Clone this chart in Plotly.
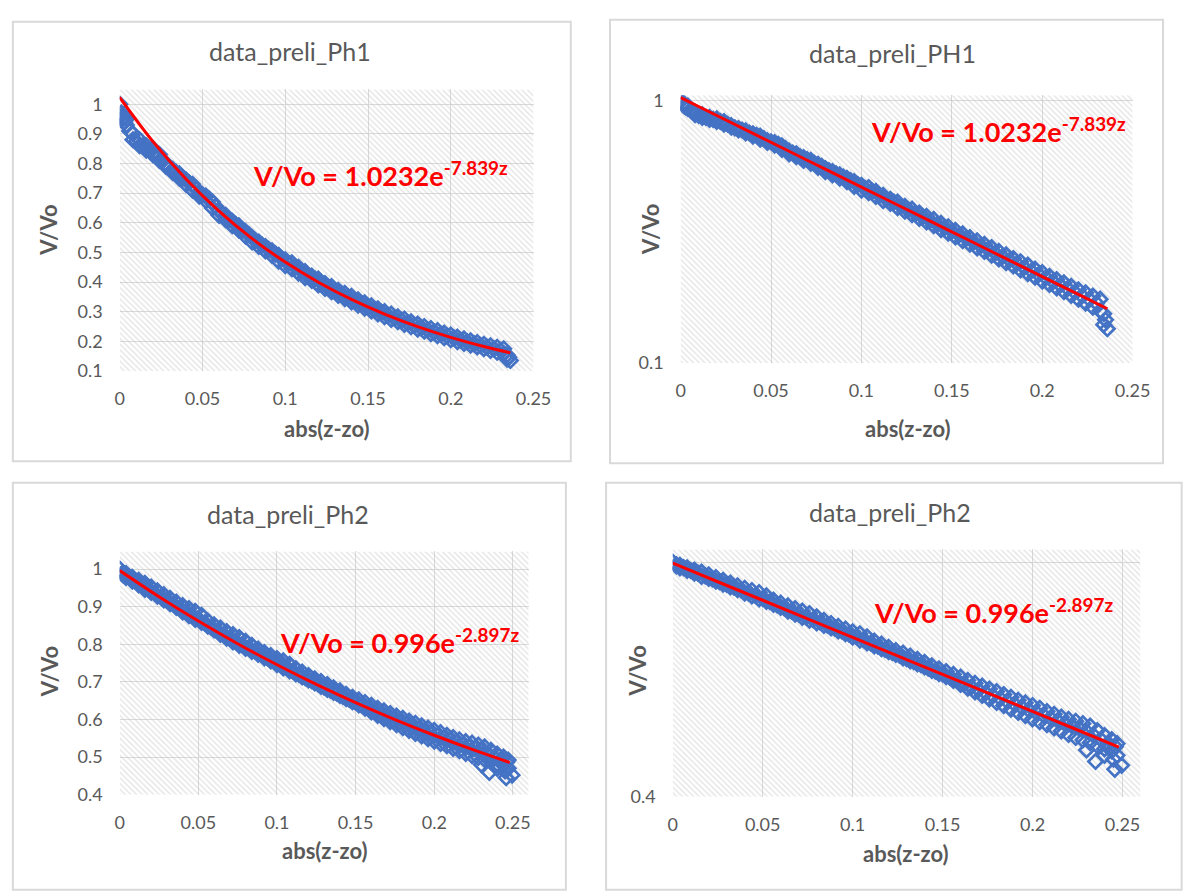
import plotly.graph_objects as go

# ---------------- data ----------------
# Ph1 measurements: abs(z-zo) grid with upper / lower edge of the point band
ph1_z = [0.004, 0.008, 0.012, 0.016, 0.020, 0.024, 0.028, 0.032, 0.036, 0.040,
         0.044, 0.048, 0.052, 0.056, 0.060, 0.064, 0.068, 0.072, 0.076, 0.080,
         0.084, 0.088, 0.092, 0.096, 0.100, 0.104, 0.108, 0.112, 0.116, 0.120,
         0.124, 0.128, 0.132, 0.136, 0.140, 0.144, 0.148, 0.152, 0.156, 0.160,
         0.164, 0.168, 0.172, 0.176, 0.180, 0.184, 0.188, 0.192, 0.196, 0.200,
         0.204, 0.208, 0.212, 0.216, 0.220, 0.224, 0.228, 0.232]
ph1_v_hi = [0.95, 0.90, 0.88, 0.86, 0.85, 0.83, 0.80, 0.78, 0.765, 0.745,
            0.73, 0.70, 0.69, 0.67, 0.64, 0.625, 0.605, 0.59, 0.57, 0.55,
            0.535, 0.52, 0.505, 0.49, 0.475, 0.465, 0.45, 0.435, 0.42, 0.41,
            0.395, 0.385, 0.372, 0.362, 0.352, 0.34, 0.33, 0.32, 0.31, 0.30,
            0.292, 0.283, 0.275, 0.266, 0.258, 0.25, 0.243, 0.236, 0.228, 0.221,
            0.214, 0.208, 0.202, 0.196, 0.19, 0.185, 0.18, 0.175]
ph1_v_lo = [0.93, 0.88, 0.86, 0.845, 0.83, 0.81, 0.79, 0.77, 0.75, 0.73,
            0.71, 0.69, 0.675, 0.65, 0.625, 0.61, 0.59, 0.575, 0.555, 0.535,
            0.52, 0.505, 0.49, 0.47, 0.455, 0.445, 0.43, 0.415, 0.405, 0.39,
            0.378, 0.367, 0.355, 0.344, 0.333, 0.322, 0.312, 0.302, 0.292, 0.283,
            0.274, 0.266, 0.257, 0.249, 0.241, 0.234, 0.226, 0.219, 0.212, 0.205,
            0.199, 0.193, 0.187, 0.181, 0.175, 0.169, 0.163, 0.158]
ph1_z_mid = [0.002, 0.006, 0.010, 0.014, 0.018, 0.022, 0.026, 0.030, 0.034, 0.038,
             0.042, 0.046, 0.050, 0.054, 0.058, 0.062, 0.066, 0.070, 0.074, 0.078,
             0.082, 0.086, 0.090, 0.094, 0.098, 0.102, 0.106, 0.110, 0.114, 0.118,
             0.122, 0.126, 0.130, 0.134, 0.138, 0.142, 0.146, 0.150, 0.154, 0.158,
             0.162, 0.166, 0.170, 0.174, 0.178, 0.182, 0.186, 0.190, 0.194, 0.198,
             0.202, 0.206, 0.210, 0.214, 0.218, 0.222, 0.226, 0.230]
ph1_v_mid = [0.955, 0.91, 0.875, 0.86, 0.845, 0.83, 0.81, 0.785, 0.77, 0.75,
             0.735, 0.715, 0.695, 0.68, 0.655, 0.63, 0.61, 0.595, 0.575, 0.56,
             0.54, 0.525, 0.51, 0.495, 0.478, 0.462, 0.45, 0.435, 0.42, 0.41,
             0.395, 0.383, 0.37, 0.36, 0.348, 0.337, 0.327, 0.317, 0.307, 0.298,
             0.288, 0.279, 0.271, 0.262, 0.254, 0.246, 0.239, 0.231, 0.224, 0.217,
             0.211, 0.204, 0.198, 0.192, 0.186, 0.18, 0.175, 0.169]
ph1_extra_z = [0.0, 0.001, 0.002, 0.003, 0.234, 0.235, 0.236, 0.234]
ph1_extra_v = [1.0, 0.97, 0.95, 0.94, 0.154, 0.146, 0.135, 0.140]

# Ph1 exponential trendline V/Vo = 1.0232 e^(-7.839 z)
ph1_fit_z = [0.0, 0.02, 0.04, 0.06, 0.08, 0.10, 0.12, 0.14, 0.16, 0.18, 0.20, 0.22, 0.236]
ph1_fit_v = [1.0232, 0.8747, 0.7479, 0.6393, 0.5465, 0.4672, 0.3994, 0.3415, 0.2919,
             0.2495, 0.2133, 0.1824, 0.1609]

# Ph2 measurements
ph2_z = [0.004, 0.008, 0.012, 0.016, 0.020, 0.024, 0.028, 0.032, 0.036, 0.040,
         0.044, 0.048, 0.052, 0.056, 0.060, 0.064, 0.068, 0.072, 0.076, 0.080,
         0.084, 0.088, 0.092, 0.096, 0.100, 0.104, 0.108, 0.112, 0.116, 0.120,
         0.124, 0.128, 0.132, 0.136, 0.140, 0.144, 0.148, 0.152, 0.156, 0.160,
         0.164, 0.168, 0.172, 0.176, 0.180, 0.184, 0.188, 0.192, 0.196, 0.200,
         0.204, 0.208, 0.212, 0.216, 0.220, 0.224, 0.228, 0.232, 0.236, 0.240,
         0.244]
ph2_v_hi = [0.988, 0.978, 0.970, 0.962, 0.952, 0.942, 0.932, 0.922, 0.912, 0.903,
            0.895, 0.888, 0.877, 0.862, 0.852, 0.843, 0.834, 0.826, 0.818, 0.808,
            0.797, 0.787, 0.778, 0.770, 0.762, 0.756, 0.747, 0.735, 0.726, 0.717,
            0.708, 0.701, 0.693, 0.684, 0.676, 0.667, 0.659, 0.652, 0.645, 0.638,
            0.630, 0.623, 0.616, 0.609, 0.603, 0.596, 0.590, 0.583, 0.577, 0.571,
            0.565, 0.558, 0.552, 0.546, 0.541, 0.537, 0.532, 0.527, 0.518, 0.508,
            0.500]
ph2_v_lo = [0.978, 0.968, 0.958, 0.946, 0.938, 0.928, 0.918, 0.908, 0.898, 0.886,
            0.876, 0.866, 0.858, 0.848, 0.838, 0.826, 0.816, 0.806, 0.797, 0.789,
            0.781, 0.773, 0.764, 0.756, 0.746, 0.737, 0.729, 0.721, 0.713, 0.705,
            0.697, 0.688, 0.680, 0.672, 0.664, 0.655, 0.647, 0.639, 0.630, 0.620,
            0.611, 0.602, 0.594, 0.586, 0.578, 0.571, 0.563, 0.556, 0.549, 0.542,
            0.536, 0.530, 0.523, 0.517, 0.510, 0.504, 0.499, 0.494, 0.488, 0.482,
            0.478]
ph2_z_mid = [0.002, 0.006, 0.010, 0.014, 0.018, 0.022, 0.026, 0.030, 0.034, 0.038,
             0.042, 0.046, 0.050, 0.054, 0.058, 0.062, 0.066, 0.070, 0.074, 0.078,
             0.082, 0.086, 0.090, 0.094, 0.098, 0.102, 0.106, 0.110, 0.114, 0.118,
             0.122, 0.126, 0.130, 0.134, 0.138, 0.142, 0.146, 0.150, 0.154, 0.158,
             0.162, 0.166, 0.170, 0.174, 0.178, 0.182, 0.186, 0.190, 0.194, 0.198,
             0.202, 0.206, 0.210, 0.214, 0.218, 0.222, 0.226, 0.230, 0.234, 0.238,
             0.242, 0.246]
ph2_v_mid = [0.990, 0.979, 0.968, 0.958, 0.948, 0.937, 0.927, 0.917, 0.907, 0.897,
             0.887, 0.878, 0.868, 0.857, 0.846, 0.836, 0.826, 0.817, 0.808, 0.799,
             0.791, 0.782, 0.773, 0.764, 0.755, 0.748, 0.739, 0.729, 0.720, 0.711,
             0.703, 0.695, 0.686, 0.678, 0.670, 0.661, 0.653, 0.646, 0.638, 0.630,
             0.622, 0.614, 0.607, 0.600, 0.593, 0.587, 0.580, 0.574, 0.567, 0.561,
             0.556, 0.550, 0.544, 0.538, 0.532, 0.527, 0.522, 0.516, 0.508, 0.500,
             0.493, 0.486]
ph2_extra_z = [0.0, 0.002, 0.002, 0.247, 0.247, 0.230, 0.235, 0.240, 0.2457, 0.2495, 0.245, 0.243]
ph2_extra_v = [1.0, 0.99, 0.985, 0.492, 0.470, 0.480, 0.459, 0.470, 0.445, 0.452, 0.463, 0.485]

# Ph2 exponential trendline V/Vo = 0.996 e^(-2.897 z)
ph2_fit_z = [0.0, 0.025, 0.05, 0.075, 0.10, 0.125, 0.15, 0.175, 0.20, 0.225, 0.248]
ph2_fit_v = [0.996, 0.9264, 0.8617, 0.8015, 0.7455, 0.6934, 0.6450, 0.5999, 0.5580,
             0.5190, 0.4856]

titles = ["data_preli_Ph1", "data_preli_PH1", "data_preli_Ph2", "data_preli_Ph2"]
equations = ["V/Vo = 1.0232e<sup>-7.839z</sup>", "V/Vo = 1.0232e<sup>-7.839z</sup>",
             "V/Vo = 0.996e<sup>-2.897z</sup>", "V/Vo = 0.996e<sup>-2.897z</sup>"]
x_tickvals = [0, 0.05, 0.1, 0.15, 0.2, 0.25]
x_ticktext = ["0", "0.05", "0.1", "0.15", "0.2", "0.25"]
lin1_tickvals = [0.1, 0.2, 0.3, 0.4, 0.5, 0.6, 0.7, 0.8, 0.9, 1.0]
lin1_ticktext = ["0.1", "0.2", "0.3", "0.4", "0.5", "0.6", "0.7", "0.8", "0.9", "1"]
lin2_tickvals = [0.4, 0.5, 0.6, 0.7, 0.8, 0.9, 1.0]
lin2_ticktext = ["0.4", "0.5", "0.6", "0.7", "0.8", "0.9", "1"]

# ---------------- styling ----------------
W, H = 1183, 891
BLUE = "#4472C4"
GRID = "#D9D9D9"
TXT = "#595959"
FONT = "Lato, 'Open Sans', sans-serif"


def px(x):
    return x / W


def py(y):
    return 1 - y / H


ph1_all_z = ph1_z + ph1_z + ph1_z_mid + ph1_extra_z
ph1_all_v = ph1_v_hi + ph1_v_lo + ph1_v_mid + ph1_extra_v
ph2_all_z = ph2_z + ph2_z + ph2_z_mid + ph2_extra_z
ph2_all_v = ph2_v_hi + ph2_v_lo + ph2_v_mid + ph2_extra_v

panels = [
    dict(z=ph1_all_z, v=ph1_all_v, fz=ph1_fit_z, fv=ph1_fit_v,
         xdom=(117, 539), ydom=(84, 371),
         xr=[0, 0.25], ytype="linear", yr=[0.1, 1.05],
         ytv=lin1_tickvals, ytt=lin1_ticktext,
         box=(8, 15, 577, 463), title=(291, 45), ytitle=(45, 228), xtitle=(328, 430),
         eq=(251, 170)),
    dict(z=ph1_all_z, v=ph1_all_v, fz=ph1_fit_z, fv=ph1_fit_v,
         xdom=(689, 1150), ydom=(90, 363),
         xr=[0, 0.25], ytype="log", yr=[-1, 0.0187],
         ytv=[0.1, 1], ytt=["0.1", "1"],
         box=(617, 13, 1181, 465), title=(905, 47), ytitle=(658, 227), xtitle=(920, 430),
         eq=(881, 125)),
    dict(z=ph2_all_z, v=ph2_all_v, fz=ph2_fit_z, fv=ph2_fit_v,
         xdom=(117, 534), ydom=(555, 803),
         xr=[0, 0.26], ytype="linear", yr=[0.4, 1.047],
         ytv=lin2_tickvals, ytt=lin2_ticktext,
         box=(8, 485, 572, 900), title=(289, 517), ytitle=(45, 678), xtitle=(326, 860),
         eq=(278, 646)),
    dict(z=ph2_all_z, v=ph2_all_v, fz=ph2_fit_z, fv=ph2_fit_v,
         xdom=(681, 1158), ydom=(553, 805),
         xr=[0, 0.26], ytype="log", yr=[-0.39794, 0.0216],
         ytv=[0.4, 1], ytt=["0.4", ""],
         box=(613, 485, 1200, 900), title=(903, 515), ytitle=(645, 677), xtitle=(918, 863),
         eq=(884, 616)),
]

fig = go.Figure()
layout = dict(width=W, height=H, margin=dict(l=0, r=0, t=0, b=0),
              paper_bgcolor="white", plot_bgcolor="white", showlegend=False,
              font=dict(family=FONT, color=TXT))
annotations = []
shapes = []

for i, p in enumerate(panels):
    n = "" if i == 0 else str(i + 1)
    xa, ya = "x" + n, "y" + n
    # hatched plot-area background spanning the axis ranges
    x0, x1 = p["xr"]
    if p["ytype"] == "log":
        y0, y1 = 10 ** p["yr"][0], 10 ** p["yr"][1]
    else:
        y0, y1 = p["yr"]
    fig.add_trace(go.Scatter(x=[x0, x1, x1, x0, x0], y=[y0, y0, y1, y1, y0],
                             xaxis=xa, yaxis=ya, mode="none", fill="toself",
                             fillcolor="rgba(0,0,0,0)",
                             fillpattern=dict(shape="\\", fgcolor="#C4C4C4", size=4,
                                              solidity=0.3),
                             hoverinfo="skip"))
    fig.add_trace(go.Scatter(x=p["z"], y=p["v"], xaxis=xa, yaxis=ya, mode="markers",
                             marker=dict(symbol="diamond-open", size=11, color=BLUE,
                                         line=dict(width=2.7, color=BLUE))))
    fig.add_trace(go.Scatter(x=p["fz"], y=p["fv"], xaxis=xa, yaxis=ya, mode="lines",
                             line=dict(color="#FF0000", width=3, shape="spline"),
                             hoverinfo="skip"))

    layout["xaxis" + n] = dict(domain=[px(p["xdom"][0]), px(p["xdom"][1])], anchor=ya,
                               range=p["xr"], tickvals=x_tickvals, ticktext=x_ticktext,
                               showgrid=True, gridcolor=GRID, gridwidth=1, zeroline=False,
                               showline=False, ticks="", ticklabelstandoff=15,
                               tickfont=dict(size=18, color=TXT, family=FONT))
    layout["yaxis" + n] = dict(domain=[py(p["ydom"][1]), py(p["ydom"][0])], anchor=xa,
                               type=p["ytype"], range=p["yr"], tickvals=p["ytv"],
                               ticktext=p["ytt"], showgrid=True, gridcolor=GRID, gridwidth=1,
                               zeroline=False, showline=False, ticks="",
                               ticklabelstandoff=16,
                               tickfont=dict(size=18, color=TXT, family=FONT))

    bx0, by0, bx1, by1 = p["box"]
    shapes.append(dict(type="rect", xref="paper", yref="paper", x0=px(bx0), x1=px(bx1),
                       y0=py(by1), y1=py(by0), line=dict(color=GRID, width=2),
                       fillcolor="rgba(0,0,0,0)", layer="below"))
    annotations.append(dict(text=titles[i], xref="paper", yref="paper",
                            x=px(p["title"][0]), y=py(p["title"][1]), xanchor="center",
                            yanchor="middle", showarrow=False,
                            font=dict(size=25, color=TXT, family=FONT)))
    annotations.append(dict(text="<b>V/Vo</b>", xref="paper", yref="paper",
                            x=px(p["ytitle"][0]), y=py(p["ytitle"][1]), xanchor="center",
                            yanchor="middle", textangle=-90, showarrow=False,
                            font=dict(size=22, color=TXT, family=FONT)))
    annotations.append(dict(text="<b>abs(z-zo)</b>", xref="paper", yref="paper",
                            x=px(p["xtitle"][0]), y=py(p["xtitle"][1]), xanchor="center",
                            yanchor="middle", showarrow=False,
                            font=dict(size=22, color=TXT, family=FONT)))
    annotations.append(dict(text="<b>" + equations[i] + "</b>", xref="paper", yref="paper",
                            x=px(p["eq"][0]), y=py(p["eq"][1]), xanchor="left",
                            yanchor="middle", showarrow=False,
                            font=dict(size=27, color="#FF0000", family=FONT)))

layout["annotations"] = annotations
layout["shapes"] = shapes
fig.update_layout(**layout)
fig.write_html("out.html", config={"displayModeBar": False},
               post_script="document.body.style.margin='0';")
